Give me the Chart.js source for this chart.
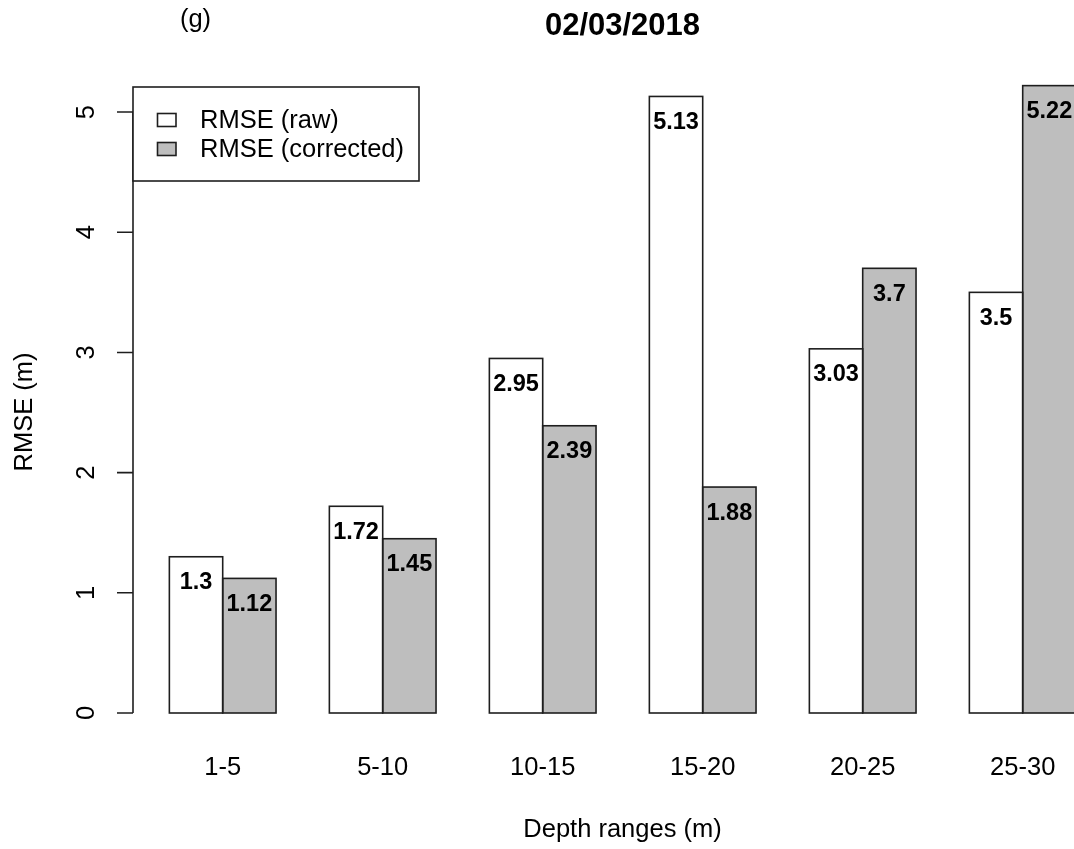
<!DOCTYPE html>
<html>
<head>
<meta charset="utf-8">
<script src="https://cdn.jsdelivr.net/npm/chart.js@4/dist/chart.umd.min.js"></script>
<style>
  html, body { margin: 0; padding: 0; background: #fff; overflow: hidden; }
  #wrap { position: relative; width: 1110px; height: 849px; }
</style>
</head>
<body>
<div id="wrap"><canvas id="chart"></canvas></div>
<script>
const categories = ['1-5', '5-10', '10-15', '15-20', '20-25', '25-30'];
const rawRmse = [1.3, 1.72, 2.95, 5.13, 3.03, 3.5];
const correctedRmse = [1.12, 1.45, 2.39, 1.88, 3.7, 5.22];
const yTicks = [0, 1, 2, 3, 4, 5];
const seriesNames = ['RMSE (raw)', 'RMSE (corrected)'];

const FONT = '"Liberation Sans", Arial, sans-serif';
const INK = '#1e1e1e';
const LW = 1.6;
const FILLS = ['#ffffff', '#bebebe'];

// outlines drawn once per edge, like R's rect(), instead of Chart.js inner borders
const outlinePlugin = {
  id: 'outlines',
  afterDatasetsDraw(chart) {
    const { ctx } = chart;
    ctx.save();
    ctx.strokeStyle = INK;
    ctx.lineWidth = LW;
    chart.data.datasets.forEach((ds, di) => {
      chart.getDatasetMeta(di).data.forEach((bar) => {
        const { x, y, base, width } = bar.getProps(['x', 'y', 'base', 'width'], true);
        ctx.strokeRect(x - width / 2, y, width, base - y);
      });
    });
    // value labels just inside the top of each bar
    ctx.fillStyle = '#000';
    ctx.font = `bold 23.5px ${FONT}`;
    ctx.textAlign = 'center';
    ctx.textBaseline = 'middle';
    chart.data.datasets.forEach((ds, di) => {
      chart.getDatasetMeta(di).data.forEach((bar, i) => {
        const { x, y } = bar.getProps(['x', 'y'], true);
        ctx.fillText(String(ds.data[i]), x, y + 26);
      });
    });
    ctx.restore();
  }
};

const axesPlugin = {
  id: 'rAxes',
  afterDraw(chart) {
    const { ctx } = chart;
    const xs = chart.scales.x;
    const ys = chart.scales.y;
    const axisX = 133;
    ctx.save();
    ctx.strokeStyle = INK;
    ctx.lineWidth = LW;

    // y axis line + ticks
    const yTop = ys.getPixelForValue(yTicks[yTicks.length - 1]);
    const yBot = ys.getPixelForValue(yTicks[0]);
    ctx.beginPath();
    ctx.moveTo(axisX, yTop);
    ctx.lineTo(axisX, yBot);
    yTicks.forEach((v) => {
      const py = ys.getPixelForValue(v);
      ctx.moveTo(axisX, py);
      ctx.lineTo(axisX - 16, py);
    });
    ctx.stroke();

    ctx.fillStyle = '#000';
    ctx.font = `25.5px ${FONT}`;
    ctx.textAlign = 'center';
    ctx.textBaseline = 'middle';
    yTicks.forEach((v) => {
      const py = ys.getPixelForValue(v);
      ctx.save();
      ctx.translate(87, py);
      ctx.rotate(-Math.PI / 2);
      ctx.fillText(String(v), 0, 0);
      ctx.restore();
    });

    // category labels
    categories.forEach((c, i) => {
      ctx.fillText(c, xs.getPixelForValue(i), 768);
    });

    // axis titles
    ctx.fillText('Depth ranges (m)', 622.5, 830);
    ctx.save();
    ctx.translate(25, 412);
    ctx.rotate(-Math.PI / 2);
    ctx.fillText('RMSE (m)', 0, 0);
    ctx.restore();

    // main title and panel tag
    ctx.font = `bold 31px ${FONT}`;
    ctx.fillText('02/03/2018', 622.5, 26);
    ctx.font = `25.5px ${FONT}`;
    ctx.fillText('(g)', 195.5, 20);

    // legend box
    ctx.fillStyle = '#fff';
    ctx.fillRect(133, 87, 286, 94);
    ctx.strokeRect(133, 87, 286, 94);
    const rows = [120, 149];
    seriesNames.forEach((name, i) => {
      ctx.fillStyle = FILLS[i];
      ctx.fillRect(157.5, rows[i] - 6.5, 18.5, 13);
      ctx.strokeRect(157.5, rows[i] - 6.5, 18.5, 13);
      ctx.fillStyle = '#000';
      ctx.textAlign = 'left';
      ctx.fillText(name, 200, rows[i] + 1);
    });
    ctx.restore();
  }
};

new Chart(document.getElementById('chart'), {
  type: 'bar',
  plugins: [outlinePlugin, axesPlugin],
  data: {
    labels: categories,
    datasets: [
      {
        label: seriesNames[0],
        data: rawRmse,
        backgroundColor: FILLS[0],
        borderWidth: 0,
        categoryPercentage: 2 / 3,
        barPercentage: 1.0,
      },
      {
        label: seriesNames[1],
        data: correctedRmse,
        backgroundColor: FILLS[1],
        borderWidth: 0,
        categoryPercentage: 2 / 3,
        barPercentage: 1.0,
      }
    ]
  },
  options: {
    responsive: true,
    maintainAspectRatio: false,
    animation: false,
    layout: { padding: { left: 142.7, right: 7.3, top: 64, bottom: 136 } },
    scales: {
      x: { display: false },
      y: { display: false, min: 0, max: 5.4 },
    },
    plugins: {
      legend: { display: false },
      tooltip: { enabled: false },
    },
  }
});
</script>
</body>
</html>
